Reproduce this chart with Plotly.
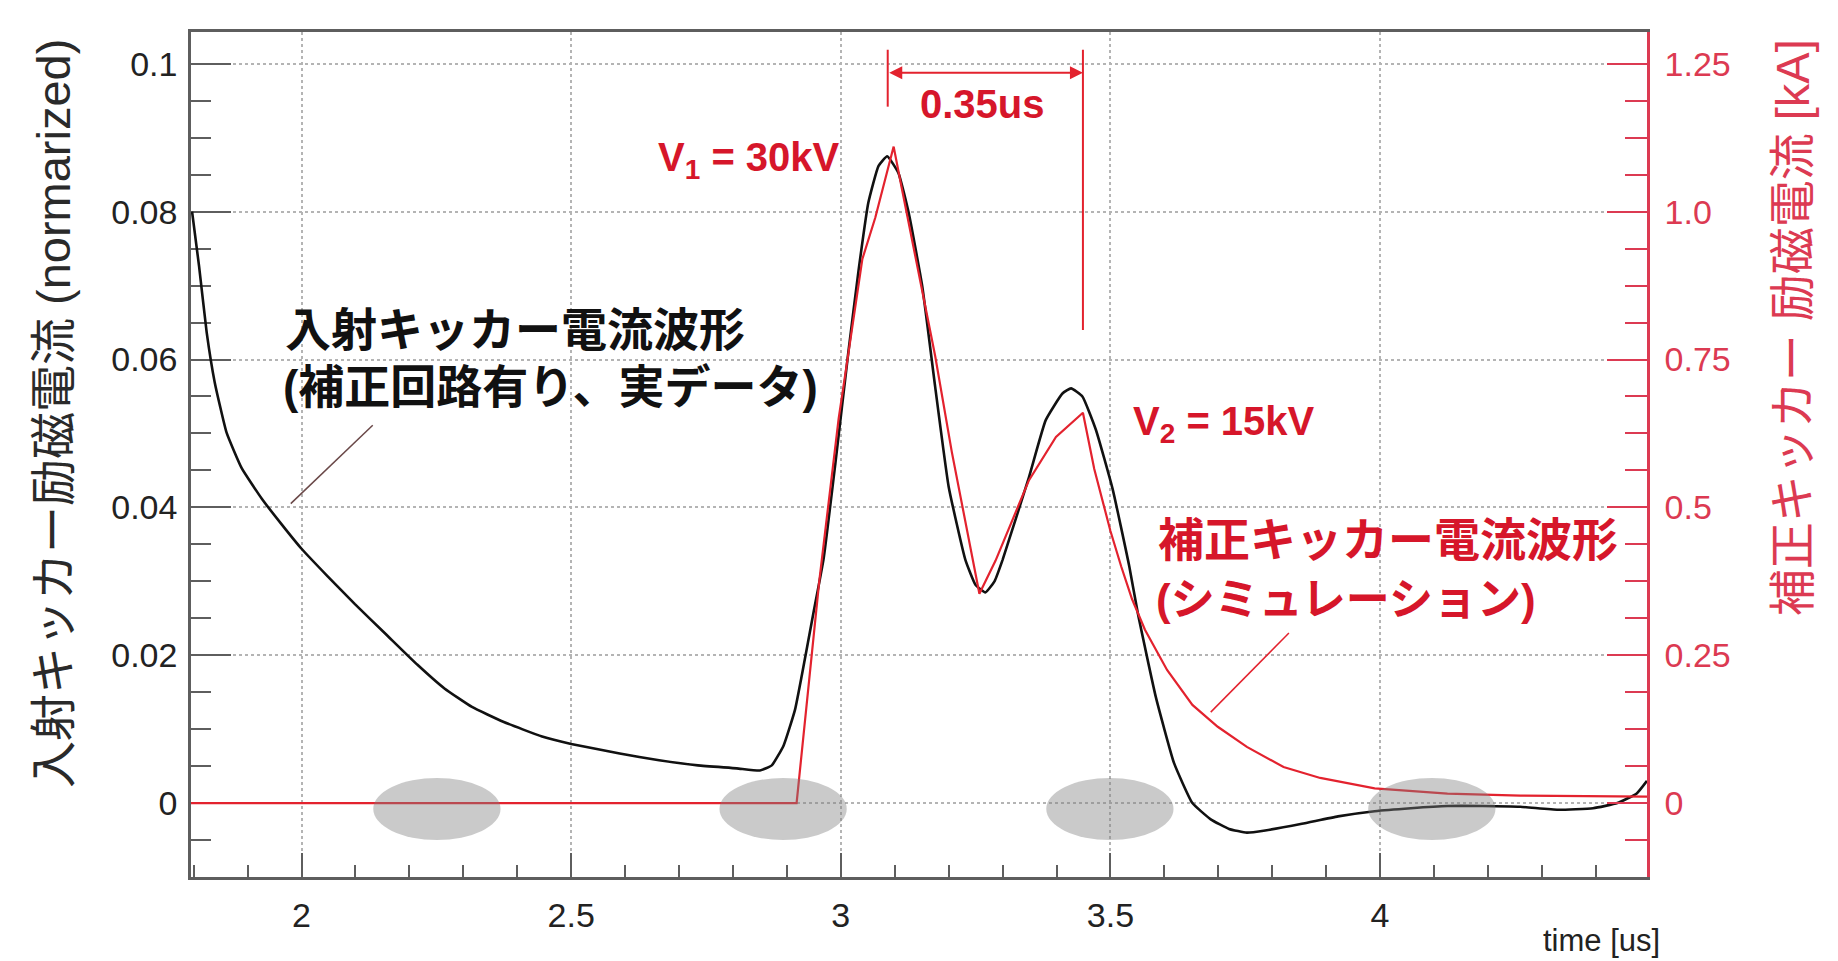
import plotly.graph_objects as go

# ---------------- data ----------------
time_black = [1.797, 1.810, 1.824, 1.839, 1.861, 1.889, 1.926, 1.962, 2.000, 2.048,
              2.099, 2.157, 2.215, 2.265, 2.316, 2.374, 2.446, 2.500, 2.590, 2.663,
              2.735, 2.807, 2.850, 2.872, 2.894, 2.915, 2.928, 2.950, 2.968, 2.990,
              3.014, 3.033, 3.051, 3.070, 3.086, 3.107, 3.126, 3.151, 3.175, 3.200,
              3.231, 3.250, 3.268, 3.285, 3.300, 3.349, 3.380, 3.411, 3.427, 3.448,
              3.473, 3.504, 3.535, 3.551, 3.584, 3.618, 3.652, 3.686, 3.720, 3.753,
              3.787, 3.855, 3.922, 3.990, 4.057, 4.125, 4.190, 4.260, 4.330, 4.395,
              4.440, 4.476, 4.495]
current_black = [0.0800, 0.0726, 0.0637, 0.0569, 0.0501, 0.0453, 0.0412, 0.0378, 0.0344, 0.0307,
                 0.0269, 0.0228, 0.0187, 0.0155, 0.0130, 0.0110, 0.0090, 0.0080, 0.0067, 0.0058,
                 0.0051, 0.0047, 0.0044, 0.0051, 0.0078, 0.0126, 0.0174, 0.0260, 0.0330, 0.0460,
                 0.0610, 0.0721, 0.0812, 0.0862, 0.0875, 0.0852, 0.0798, 0.0699, 0.0563, 0.0428,
                 0.0329, 0.0295, 0.0285, 0.0300, 0.0329, 0.0441, 0.0518, 0.0554, 0.0561, 0.0550,
                 0.0505, 0.0425, 0.0320, 0.0256, 0.0144, 0.0054, 0.0000, -0.0022, -0.0035, -0.0040,
                 -0.0037, -0.0028, -0.0018, -0.0011, -0.0007, -0.0004, -0.0004, -0.0005, -0.0009, -0.0007,
                 0.0000, 0.0013, 0.0030]

time_red = [1.795, 2.918, 2.960, 2.996, 3.014, 3.040, 3.064, 3.098, 3.113, 3.175,
            3.206, 3.244, 3.257, 3.287, 3.349, 3.399, 3.449, 3.470, 3.500, 3.520,
            3.540, 3.564, 3.605, 3.652, 3.699, 3.753, 3.821, 3.889, 3.990, 4.125,
            4.260, 4.495]
current_red_kA = [0.0, 0.0, 0.375, 0.650, 0.760, 0.920, 0.990, 1.110, 1.040, 0.756,
                  0.593, 0.411, 0.354, 0.410, 0.546, 0.619, 0.660, 0.565, 0.460, 0.400,
                  0.345, 0.293, 0.225, 0.166, 0.129, 0.095, 0.061, 0.0425, 0.025, 0.016,
                  0.0125, 0.011]

x_tick_vals = [2, 2.5, 3, 3.5, 4]
x_tick_text = ["2", "2.5", "3", "3.5", "4"]
y_tick_vals = [0, 0.02, 0.04, 0.06, 0.08, 0.1]
y_tick_text = ["0", "0.02", "0.04", "0.06", "0.08", "0.1"]
y2_tick_vals = [0, 0.25, 0.5, 0.75, 1.0, 1.25]
y2_tick_text = ["0", "0.25", "0.5", "0.75", "1.0", "1.25"]

# highlighted regions (gray ellipses), centres in time [us]
ellipse_centers = [2.251, 2.893, 3.499, 4.096]

# ---------------- styling ----------------
FONT = "Liberation Sans, Noto Sans CJK JP, sans-serif"
RED = "#e3222e"
RED_TXT = "#d6162a"
RED_AX = "#dc3a52"
AX = "#5e5e5e"
GRID = "#b4b4b4"

fig = go.Figure()
fig.add_trace(go.Scatter(x=time_black, y=current_black, mode="lines",
                         line=dict(color="#111111", width=2.6, shape="spline", smoothing=0.4),
                         yaxis="y", showlegend=False, hoverinfo="skip"))
fig.add_trace(go.Scatter(x=time_red, y=current_red_kA, mode="lines",
                         line=dict(color=RED, width=2.2),
                         yaxis="y2", showlegend=False, hoverinfo="skip"))

fig.update_layout(
    width=1838, height=961, autosize=False,
    margin=dict(l=191, r=191, t=32, b=84),
    plot_bgcolor="white", paper_bgcolor="white",
    font=dict(family=FONT, size=33, color="#222222"),
    xaxis=dict(range=[1.795, 4.495], tickmode="array", tickvals=x_tick_vals, ticktext=x_tick_text,
               ticks="inside", ticklen=24, tickwidth=2, tickcolor=AX,
               minor=dict(ticks="inside", ticklen=12, tickwidth=1.5, tickcolor=AX,
                          dtick=0.1, tick0=0, showgrid=False),
               showline=True, linecolor=AX, linewidth=2.5, mirror=True,
               showgrid=True, gridcolor=GRID, griddash="dot", gridwidth=1.5,
               zeroline=False, tickfont=dict(size=34, color="#222222"),
               automargin=False, ticklabelstandoff=6, layer="below traces"),
    yaxis=dict(range=[-0.0100, 0.1043], tickmode="array", tickvals=y_tick_vals, ticktext=y_tick_text,
               ticks="inside", ticklen=40, tickwidth=2, tickcolor=AX,
               minor=dict(ticks="inside", ticklen=20, tickwidth=2, tickcolor=AX,
                          dtick=0.005, tick0=0, showgrid=False),
               showline=True, linecolor=AX, linewidth=2.5,
               showgrid=True, gridcolor=GRID, griddash="dot", gridwidth=1.5,
               zeroline=False, tickfont=dict(size=34, color="#222222"),
               automargin=False, ticklabelstandoff=4, layer="below traces"),
    yaxis2=dict(overlaying="y", side="right", range=[-0.125, 1.30375],
                tickmode="array", tickvals=y2_tick_vals, ticktext=y2_tick_text,
                ticks="inside", ticklen=40, tickwidth=2, tickcolor=RED_AX,
                minor=dict(ticks="inside", ticklen=22, tickwidth=2, tickcolor=RED_AX,
                           dtick=0.0625, tick0=0, showgrid=False),
                showline=True, linecolor=RED_AX, linewidth=2.5,
                showgrid=False, zeroline=False,
                tickfont=dict(size=34, color=RED_AX), automargin=False, ticklabelstandoff=8),
)

shapes = []
for c in ellipse_centers:
    shapes.append(dict(type="circle", xref="x", yref="y",
                       x0=c - 0.118, x1=c + 0.118, y0=-0.0050, y1=0.0034,
                       fillcolor="rgba(128,128,128,0.42)", line=dict(width=0), layer="above"))
# 0.35us markers
shapes.append(dict(type="line", xref="x", yref="y", x0=3.087, x1=3.087, y0=0.0942, y1=0.1019,
                   line=dict(color=RED, width=2)))
shapes.append(dict(type="line", xref="x", yref="y", x0=3.449, x1=3.449, y0=0.0640, y1=0.1019,
                   line=dict(color=RED, width=2)))
# pointer lines
shapes.append(dict(type="line", xref="x", yref="y", x0=1.980, x1=2.132, y0=0.0405, y1=0.0511,
                   line=dict(color="#6a4848", width=1.5)))
shapes.append(dict(type="line", xref="x", yref="y", x0=3.686, x1=3.831, y0=0.0123, y1=0.0230,
                   line=dict(color=RED, width=1.5)))
fig.update_layout(shapes=shapes)

ann = []
ann.append(dict(x=1.966, y=0.0640, xref="x", yref="y", xanchor="left", yanchor="middle",
                text="<b>入射キッカー電流波形</b>", showarrow=False,
                font=dict(size=46, color="#111111")))
ann.append(dict(x=1.962, y=0.0563, xref="x", yref="y", xanchor="left", yanchor="middle",
                text="<b>(補正回路有り、実データ)</b>", showarrow=False,
                font=dict(size=46, color="#111111")))
ann.append(dict(x=3.002, y=0.0870, xref="x", yref="y", xanchor="right", yanchor="middle",
                text="<b>V<sub>1</sub> = 30kV</b>", showarrow=False,
                font=dict(size=40, color=RED_TXT)))
ann.append(dict(x=3.262, y=0.0945, xref="x", yref="y", xanchor="center", yanchor="middle",
                text="<b>0.35us</b>", showarrow=False,
                font=dict(size=40, color=RED_TXT)))
ann.append(dict(x=3.538, y=0.0513, xref="x", yref="y", xanchor="left", yanchor="middle",
                text="<b>V<sub>2</sub> = 15kV</b>", showarrow=False,
                font=dict(size=40, color=RED_TXT)))
ann.append(dict(x=3.584, y=0.0356, xref="x", yref="y", xanchor="left", yanchor="middle",
                text="<b>補正キッカー電流波形</b>", showarrow=False,
                font=dict(size=46, color=RED_TXT)))
ann.append(dict(x=3.580, y=0.0275, xref="x", yref="y", xanchor="left", yanchor="middle",
                text="<b>(シミュレーション)</b>", showarrow=False,
                font=dict(size=44, color=RED_TXT)))
# double arrow
ann.append(dict(x=3.449, y=0.0988, ax=3.087, ay=0.0988, xref="x", yref="y", axref="x", ayref="y",
                text="", showarrow=True, arrowhead=2, startarrowhead=2, arrowside="end+start",
                arrowsize=1.3, startarrowsize=1.3, arrowwidth=2, arrowcolor=RED))
# axis titles
ann.append(dict(x=-0.0948, y=0.549, xref="paper", yref="paper", xanchor="center", yanchor="middle",
                text="入射キッカー励磁電流 (normarized)", textangle=-90, showarrow=False,
                font=dict(size=47, color="#2a2a2a")))
ann.append(dict(x=1.100, y=0.650, xref="paper", yref="paper", xanchor="center", yanchor="middle",
                text="補正キッカー 励磁電流 [kA]", textangle=-90, showarrow=False,
                font=dict(size=47, color=RED_AX)))
ann.append(dict(x=1.0103, y=-0.0757, xref="paper", yref="paper", xanchor="right", yanchor="middle",
                text="time [us]", showarrow=False,
                font=dict(size=31, color="#222222")))
fig.update_layout(annotations=ann)

fig.write_html("out.html")
